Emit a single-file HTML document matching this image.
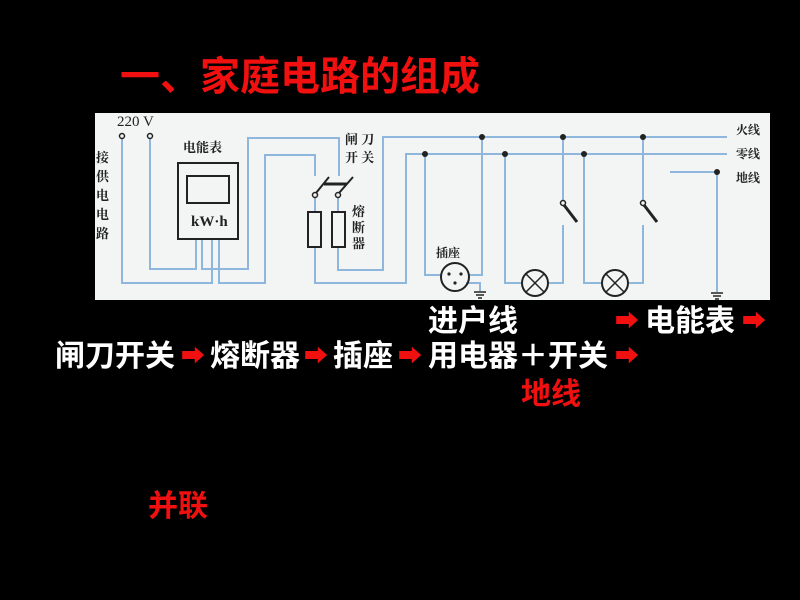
<!DOCTYPE html>
<html><head><meta charset="utf-8"><style>
html,body{margin:0;padding:0;background:#000;width:800px;height:600px;overflow:hidden;position:relative}
.t{position:absolute;font-family:"Liberation Sans","Noto Sans CJK SC",sans-serif;font-weight:bold;white-space:nowrap;line-height:1}
.w{color:#fff;font-size:30px}
.r{color:#f01010}
.ar{color:#f01010;font-size:24px}
</style></head><body>
<div class="t r" style="left:120px;top:57px;font-size:40px">一、家庭电路的组成</div>
<svg style="position:absolute;left:0;top:0" width="800" height="600" font-family="'Liberation Serif','Noto Serif CJK SC',serif">
<rect x="95" y="113" width="675" height="187" fill="#f3f5f4"/>
<g stroke="#8fb6dc" stroke-width="2" fill="none">
<polyline points="122,138 122,283 212,283 212,240"/>
<polyline points="150,138 150,269 196,269 196,240"/>
<polyline points="202,240 202,269 248,269 248,138 339,138 339,176"/>
<polyline points="219,240 219,283 265,283 265,155 315,155 315,176"/>
<polyline points="315,247 315,283 406,283 406,154 727,154"/>
<polyline points="338,247 338,270 383,270 383,137 727,137"/>
<line x1="315" y1="198" x2="315" y2="212"/><line x1="338" y1="198" x2="338" y2="212"/>
<polyline points="425,154 425,275 441,275"/>
<polyline points="482,137 482,275 469,275"/>
<polyline points="466,283 480,283 480,291"/>
<polyline points="505,154 505,283 521,283"/>
<polyline points="549,283 563,283 563,225"/>
<line x1="563" y1="137" x2="563" y2="201"/>
<polyline points="584,154 584,283 601,283"/>
<polyline points="629,283 643,283 643,225"/>
<line x1="643" y1="137" x2="643" y2="201"/>
<polyline points="670,172 717,172 717,292"/>
</g>
<g stroke="#222" stroke-width="1.5" fill="none">
<circle cx="122" cy="136" r="2.5"/><circle cx="150" cy="136" r="2.5"/>
<rect x="178" y="163" width="60" height="76" stroke-width="2"/>
<rect x="187" y="176" width="42" height="27" stroke-width="2"/>
<rect x="308" y="212" width="13" height="35" stroke-width="2"/>
<rect x="332" y="212" width="13" height="35" stroke-width="2"/>
<circle cx="315" cy="195" r="2.5"/><circle cx="338" cy="195" r="2.5"/>
<line x1="316" y1="193" x2="329" y2="177" stroke-width="2"/>
<line x1="339" y1="193" x2="353" y2="177" stroke-width="2"/>
<line x1="324" y1="184" x2="347" y2="184" stroke-width="3"/>
<circle cx="455" cy="277" r="14" stroke-width="2"/>
<circle cx="535" cy="283" r="13" stroke-width="2"/>
<line x1="526" y1="274" x2="544" y2="292"/><line x1="544" y1="274" x2="526" y2="292"/>
<circle cx="615" cy="283" r="13" stroke-width="2"/>
<line x1="606" y1="274" x2="624" y2="292"/><line x1="624" y1="274" x2="606" y2="292"/>
<circle cx="563" cy="203" r="2.5"/><circle cx="643" cy="203" r="2.5"/>
<line x1="564" y1="205" x2="577" y2="222" stroke-width="3"/>
<line x1="644" y1="205" x2="657" y2="222" stroke-width="3"/>
<line x1="474" y1="292" x2="486" y2="292"/><line x1="476" y1="295" x2="484" y2="295"/><line x1="478" y1="298" x2="482" y2="298"/>
<line x1="711" y1="293" x2="723" y2="293"/><line x1="713" y1="296" x2="721" y2="296"/><line x1="715" y1="299" x2="719" y2="299"/>
</g>
<g fill="#222">
<circle cx="425" cy="154" r="3"/><circle cx="482" cy="137" r="3"/><circle cx="505" cy="154" r="3"/>
<circle cx="563" cy="137" r="3"/><circle cx="584" cy="154" r="3"/><circle cx="643" cy="137" r="3"/>
<circle cx="717" cy="172" r="3"/>
<circle cx="449" cy="274" r="1.6"/><circle cx="461" cy="274" r="1.6"/><circle cx="455" cy="283" r="1.6"/>
</g>
<g fill="#222" font-size="13" font-weight="bold">
<text x="117" y="126" font-size="15" font-weight="normal">220 V</text>
<text x="183" y="152">电能表</text>
<text x="191" y="226" font-size="15">kW·h</text>
<text x="345" y="144">闸 刀</text><text x="345" y="162">开 关</text>
<text x="352" y="216">熔</text><text x="352" y="232">断</text><text x="352" y="248">器</text>
<text x="96" y="162">接</text><text x="96" y="181">供</text><text x="96" y="200">电</text><text x="96" y="219">电</text><text x="96" y="238">路</text>
<text x="436" y="257" font-size="12">插座</text>
<text x="736" y="134" font-size="12">火线</text>
<text x="736" y="158" font-size="12">零线</text>
<text x="736" y="182" font-size="12">地线</text>
</g>
</svg>
<div class="t w" style="left:428px;top:307px">进户线</div>
<div class="t ar" style="left:615px;top:310px">➡</div>
<div class="t w" style="left:645px;top:307px">电能表</div>
<div class="t ar" style="left:742px;top:310px">➡</div>
<div class="t w" style="left:55px;top:342px">闸刀开关</div>
<div class="t ar" style="left:181px;top:345px">➡</div>
<div class="t w" style="left:210px;top:342px">熔断器</div>
<div class="t ar" style="left:304px;top:345px">➡</div>
<div class="t w" style="left:333px;top:342px">插座</div>
<div class="t ar" style="left:398px;top:345px">➡</div>
<div class="t w" style="left:428px;top:342px">用电器＋开关</div>
<div class="t ar" style="left:615px;top:345px">➡</div>
<div class="t r" style="left:521px;top:380px;font-size:30px">地线</div>
<div class="t r" style="left:148px;top:492px;font-size:30px">并联</div>
</body></html>
